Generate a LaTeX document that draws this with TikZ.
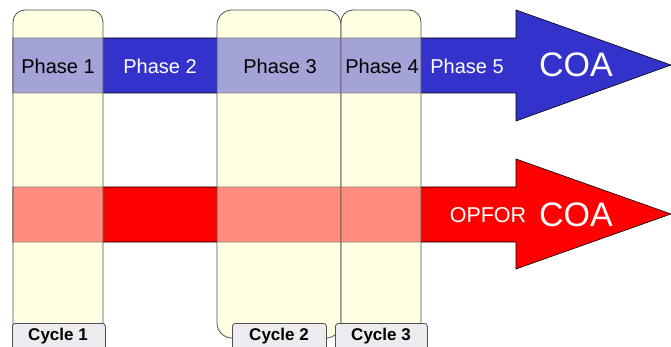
\documentclass[tikz,border=0pt]{standalone}
\usepackage{fontspec}
\setmainfont{Liberation Sans}
\usepackage{xcolor}
\definecolor{coablue}{RGB}{51,51,204}
\definecolor{coared}{RGB}{255,0,0}
\definecolor{cyclecream}{RGB}{255,255,226}
\definecolor{cycletab}{RGB}{237,234,240}
\definecolor{cycleedge}{RGB}{80,80,80}
\usetikzlibrary{positioning}

\tikzset{
  phase/.style={font=\fontsize{20}{24}\selectfont, inner sep=0pt},
  coatext/.style={font=\fontsize{34}{40}\selectfont, text=white, inner sep=0pt},
  cyclebox/.style={draw=cycleedge, line width=0.8pt},
  cycletabnode/.style={draw=cycleedge, fill=cycletab, rounded corners=3pt, line width=0.8pt,
    inner sep=0pt, anchor=north west},
  cyclename/.style={font=\bfseries\fontsize{17}{20}\selectfont, inner sep=0pt}
}

\begin{document}
\begin{tikzpicture}[x=1pt, y=-1pt]
  \useasboundingbox (0,0) rectangle (671,347);
  \begin{scope}
  \clip (0,0) rectangle (671,347);
  % cycle columns, solid underlay
  \fill[cyclecream, rounded corners=12pt] (13,323) -- (13,10) -- (103,10) -- (103,323) -- cycle;
  \fill[cyclecream, rounded corners=15pt] (217,10) rectangle (341,338);
  \fill[cyclecream, rounded corners=12pt] (341,330) -- (341,10) -- (421,10) -- (421,330) -- cycle;
  % own course of action
  \draw[fill=coablue, draw=black, line width=0.6pt]
    (13,38) -- (516,38) -- (516,10) -- (671,65) -- (516,121) -- (516,93) -- (13,93) -- cycle;
  % opposing force course of action
  \draw[fill=coared, draw=black, line width=0.6pt]
    (13,187) -- (516,187) -- (516,159) -- (671,214) -- (516,269) -- (516,242) -- (13,242) -- cycle;
  % cycle columns, shaded over the arrows
  \draw[cyclebox, fill=cyclecream, fill opacity=0.55, rounded corners=12pt]
    (13,330) -- (13,10) -- (103,10) -- (103,330);
  \draw[cyclebox, fill=cyclecream, fill opacity=0.55, rounded corners=15pt]
    (217,10) rectangle (341,338);
  \draw[cyclebox, fill=cyclecream, fill opacity=0.55, rounded corners=12pt]
    (341,330) -- (341,10) -- (421,10) -- (421,330);
  % phase labels
  \node[phase] (ph1) at (58,66) {Phase 1};
  \node[phase, text=white] (ph2) at (160,66) {Phase 2};
  \node[phase] (ph3) at (280,66) {Phase 3};
  \node[phase, text=white] (ph5) at (467,66) {Phase 5};
  \node[phase] (ph4) at (382,66) {Phase 4};
  \node[coatext] (coa) at (576,65) {COA};
  \node[phase, text=white, font=\fontsize{21.5}{25}\selectfont] (opfor) at (488,215) {OPFOR};
  \node[coatext] (opcoa) at (576,215) {COA};
  % cycle tabs
  \node[cycletabnode, minimum width=93pt, minimum height=30pt] (cyc1) at (12,323) {};
  \node[cycletabnode, minimum width=94pt, minimum height=30pt] (cyc2) at (232,323) {};
  \node[cycletabnode, minimum width=92pt, minimum height=30pt] (cyc3) at (335,323) {};
  \node[cyclename] (cyc1t) at (58,336) {Cycle 1};
  \node[cyclename] (cyc2t) at (279,336) {Cycle 2};
  \node[cyclename] (cyc3t) at (381,336) {Cycle 3};
  \end{scope}
\end{tikzpicture}
\end{document}
